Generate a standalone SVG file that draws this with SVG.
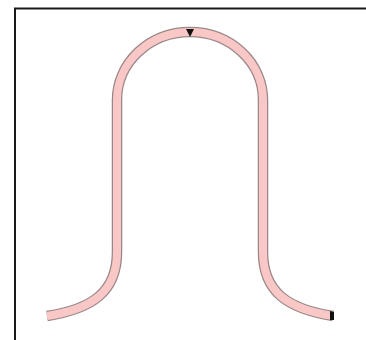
<svg xmlns="http://www.w3.org/2000/svg" width="366" height="340" viewBox="0 0 366 340">
<style>
.frame{stroke:#1a1a1a;stroke-width:2;fill:none}
.outer{stroke:#9a8888;stroke-width:10.5;fill:none}
.inner{stroke:#f9c8c6;stroke-width:8;fill:none}
</style>
<rect width="366" height="340" fill="#fff"/>
<g id="frame">
<path class="frame" d="M15 340 V8.5 H366"/>
</g>
<g id="tube">
<path class="outer" d="M47 316 C92 309 117 292 117 252 V100 A73 68 0 0 1 263 100 V252 C263 292 288 309 333 316"/>
<path class="inner" d="M47 316 C92 309 117 292 117 252 V100 A73 68 0 0 1 263 100 V252 C263 292 288 309 333 316"/>
</g>
<g id="marks">
<path d="M186 29 L194 29 L190 37 Z" fill="#111"/>
<path d="M330 311 L334 312 L334 320 L330 320 Z" fill="#111"/>
</g>
</svg>
